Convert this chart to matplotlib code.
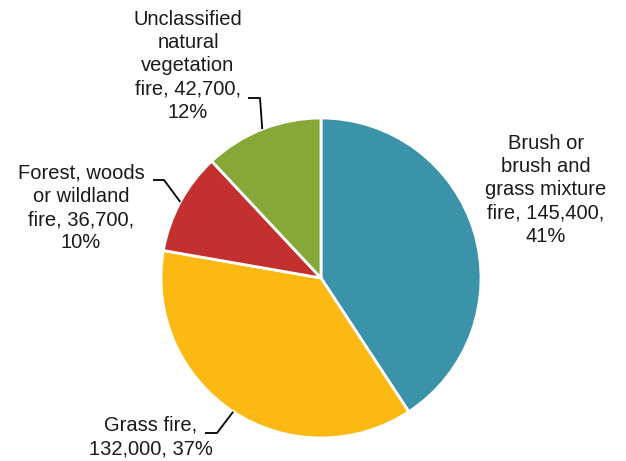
import numpy as np
import matplotlib
matplotlib.use("Agg")
import matplotlib.pyplot as plt

plt.rcParams["font.family"] = ["Liberation Sans", "DejaVu Sans"]

# fire types, clockwise from 12 o'clock
categories = ["Brush or\nbrush and\ngrass mixture",
              "Grass fire,",
              "Forest, woods\nor wildland",
              "Unclassified\nnatural\nvegetation"]
counts = [145400, 132000, 36700, 42700]
shares = [41, 37, 10, 12]
colors = ["#3A93A8", "#FDB913", "#C4302F", "#86A838"]

labels = [
    categories[0] + "\nfire, {:,},\n{}%".format(counts[0], shares[0]),
    categories[1] + "\n{:,}, {}%".format(counts[1], shares[1]),
    categories[2] + "\nfire, {:,},\n{}%".format(counts[2], shares[2]),
    categories[3] + "\nfire, {:,},\n{}%".format(counts[3], shares[3]),
]

# pixel layout helpers (pie radius 160 px, centre at 321,278)
R = 160.0
cx, cy = 321.0, 278.0
def d(px, py):
    return ((px - cx) / R, (cy - py) / R)

fig = plt.figure(figsize=(6.26, 4.61), dpi=100)
ax = fig.add_axes([0, 0, 1, 1])
wedges, _ = ax.pie(counts, colors=colors, startangle=90, counterclock=False,
                   radius=1.0, wedgeprops=dict(edgecolor="white", linewidth=2))
ax.set_xlim(d(0, 0)[0], d(626, 0)[0])
ax.set_ylim(d(0, 461)[1], d(0, 0)[1])
ax.set_aspect("equal")
ax.axis("off")

text_pos = [d(546, 190), d(151, 437), d(81, 208), d(188, 66)]
# leader: (start of horizontal, elbow) in pixels, None for no leader
leaders = [None, ((205, 433), (217, 433)), ((153, 180), (164, 180)),
           ((248, 98), (260, 98))]

for w, lab, pos, ld in zip(wedges, labels, text_pos, leaders):
    ax.text(pos[0], pos[1], lab, ha="center", va="center", fontsize=14.5,
            linespacing=1.27, color="#1a1a1a")
    if ld is not None:
        mid = np.deg2rad((w.theta1 + w.theta2) / 2)
        a = d(*ld[0])
        b = d(*ld[1])
        ax.plot([a[0], b[0], np.cos(mid)], [a[1], b[1], np.sin(mid)],
                color="black", lw=1.3, solid_capstyle="butt")

fig.savefig("out.png", dpi=100)
